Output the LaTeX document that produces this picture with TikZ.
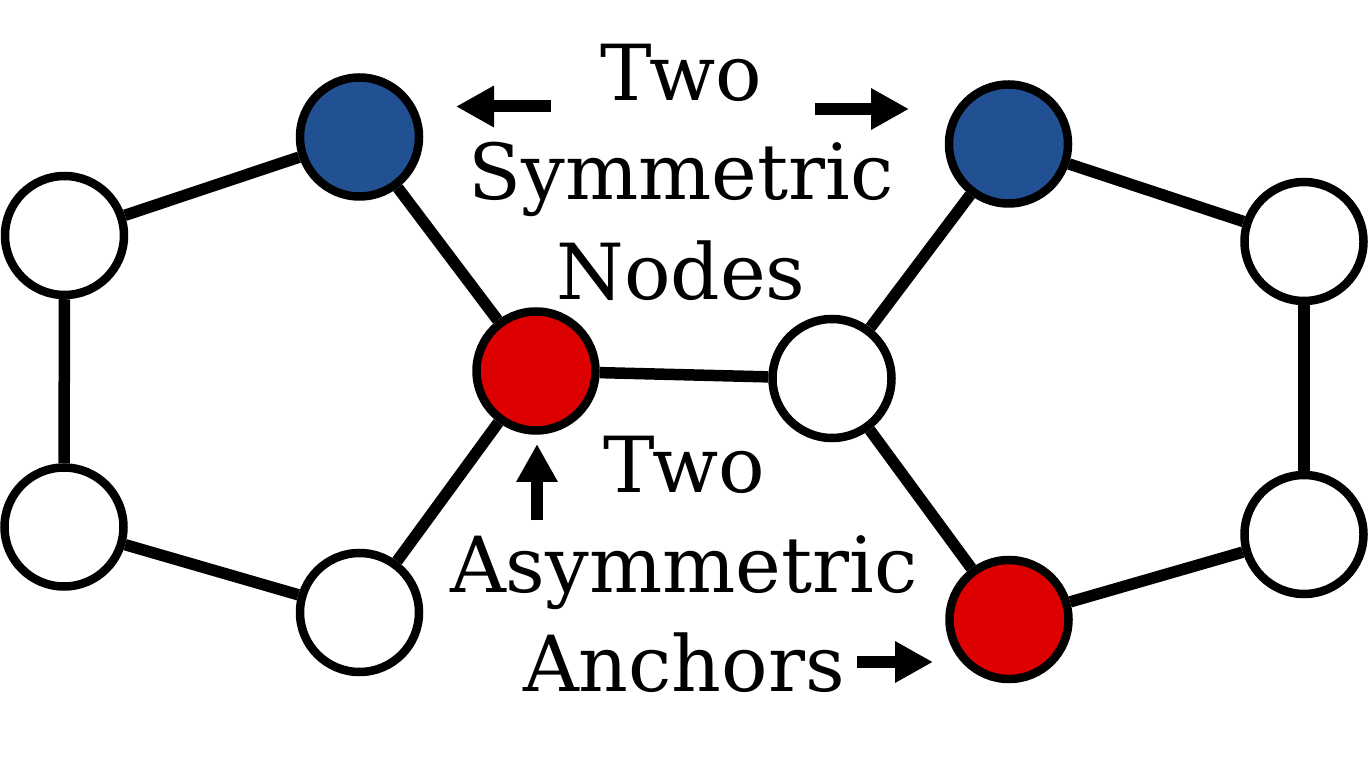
\documentclass[tikz,border=0pt]{standalone}
\usepackage{fontspec}
\setmainfont{DejaVu Serif}
\usetikzlibrary{arrows.meta}
\definecolor{nblue}{RGB}{34,81,147}
\definecolor{nred}{RGB}{221,0,0}
\tikzset{
  atom/.style={circle, draw=black, line width=0.17cm, minimum size=2.38cm, inner sep=0pt},
  wnode/.style={atom, fill=white},
  bnode/.style={atom, fill=nblue},
  rnode/.style={atom, fill=nred},
  bond/.style={line width=0.23cm, draw=black},
  lbl/.style={anchor=base, font=\fontsize{44}{52}\selectfont, inner sep=0pt},
  pointer/.style={line width=0.24cm, -{Triangle[length=0.76cm, width=0.78cm]}}
}
\begin{document}
\begin{tikzpicture}
\useasboundingbox (0,0) rectangle (27.36,15.32);
\fill[white] (0,0) rectangle (27.36,15.32);
% left ring
\node[wnode] (L1) at (1.29,10.61) {};
\node[bnode] (L2) at (7.19,12.58) {};
\node[rnode] (L3) at (10.72,7.90) {};
\node[wnode] (L4) at (7.19,3.07) {};
\node[wnode] (L5) at (1.28,4.78) {};
% right ring
\node[wnode] (R1) at (16.64,7.75) {};
\node[bnode] (R2) at (20.17,12.44) {};
\node[wnode] (R3) at (26.08,10.49) {};
\node[wnode] (R4) at (26.08,4.63) {};
\node[rnode] (R5) at (20.18,2.93) {};
% bonds
\draw[bond] (L1) -- (L2);
\draw[bond] (L2) -- (L3);
\draw[bond] (L3) -- (L4);
\draw[bond] (L4) -- (L5);
\draw[bond] (L5) -- (L1);
\draw[bond] (L3) -- (R1);
\draw[bond] (R1) -- (R2);
\draw[bond] (R2) -- (R3);
\draw[bond] (R3) -- (R4);
\draw[bond] (R4) -- (R5);
\draw[bond] (R5) -- (R1);
% labels
\node[lbl] (t1) at (13.62,13.30) {Two};
\node[lbl] (t2) at (13.62,11.32) {Symmetric};
\node[lbl] (t3) at (13.62,9.32) {Nodes};
\node[lbl] (b1) at (13.68,5.48) {Two};
\node[lbl] (b2) at (13.68,3.48) {Asymmetric};
\node[lbl] (b3) at (13.68,1.50) {Anchors};
% pointers
\coordinate (a1s) at (11.02,13.19);
\coordinate (a1e) at (9.12,13.19);
\coordinate (a2s) at (16.30,13.14);
\coordinate (a2e) at (18.18,13.14);
\coordinate (a3s) at (10.74,4.92);
\coordinate (a3e) at (10.74,6.44);
\coordinate (a4s) at (17.14,2.08);
\coordinate (a4e) at (18.66,2.08);
\draw[pointer] (a1s) -- (a1e);
\draw[pointer] (a2s) -- (a2e);
\draw[pointer] (a3s) -- (a3e);
\draw[pointer] (a4s) -- (a4e);
\end{tikzpicture}
\end{document}
